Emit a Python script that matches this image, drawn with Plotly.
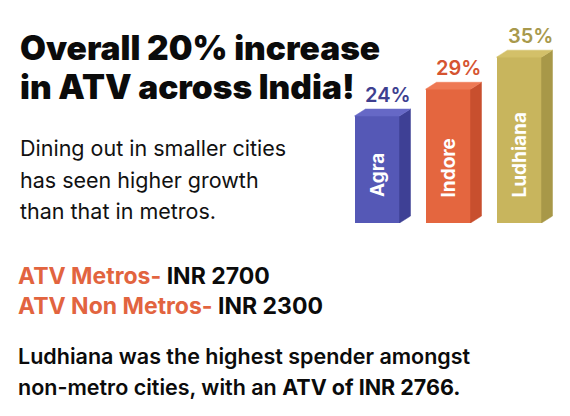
import plotly.graph_objects as go

cities = ["Agra", "Indore", "Ludhiana"]
growth = [24, 29, 35]
labels = ["24%", "29%", "35%"]
front_colors = ["#5558b6", "#e4663f", "#c8b55d"]
top_colors = ["#6668c6", "#ee7954", "#d3c069"]
side_colors = ["#3e4095", "#c84f2e", "#a89848"]
label_colors = ["#3e3f8f", "#d55431", "#a8994c"]

title_lines = ["Overall 20% increase", "in ATV across India!"]
sub_lines = ["Dining out in smaller cities", "has seen higher growth", "than that in metros."]
atv_items = [("ATV Metros-", "INR 2700"), ("ATV Non Metros-", "INR 2300")]
note_lines = ["Ludhiana was the highest spender amongst",
              "non-metro cities, with an <b>ATV of INR 2766.</b>"]

OFF = 8  # page body margin
W, H = 570 - OFF, 416 - OFF
FONT = "Inter"

px_per_cat = 71.0
px_per_pct = 5.35
bar_w = 45 / px_per_cat
dx = 11 / px_per_cat
dy = 7 / px_per_pct
y_lo = 4.0
y_hi = y_lo + 193 / px_per_pct

def px(xp):
    return (xp - OFF) / W

def py(yp):
    return 1 - (yp - OFF) / H

fig = go.Figure()
xs = list(range(len(cities)))

fig.add_trace(go.Bar(x=xs, y=growth, width=bar_w, marker=dict(color=front_colors, line=dict(width=0)),
                     hoverinfo="skip", showlegend=False))

for i, v in enumerate(growth):
    l, r = i - bar_w / 2, i + bar_w / 2
    fig.add_trace(go.Scatter(x=[r, r + dx, r + dx, r, r], y=[y_lo, y_lo + dy, v + dy, v, y_lo],
                             fill="toself", fillcolor=side_colors[i], mode="lines",
                             line=dict(color=side_colors[i], width=0.5), hoverinfo="skip", showlegend=False))
    fig.add_trace(go.Scatter(x=[l, l + dx, r + dx, r, l], y=[v, v + dy, v + dy, v, v],
                             fill="toself", fillcolor=top_colors[i], mode="lines",
                             line=dict(color=top_colors[i], width=0.5), hoverinfo="skip", showlegend=False))
    fig.add_annotation(x=i + dx, y=v + dy, xref="x", yref="y", text=labels[i], showarrow=False,
                       yanchor="bottom", xanchor="center", yshift=0,
                       font=dict(family=FONT, size=20, weight=600, color=label_colors[i]))
    fig.add_annotation(x=i, y=y_lo, xref="x", yref="y", text=cities[i], showarrow=False,
                       textangle=-90, yanchor="bottom", xanchor="center", yshift=24,
                       font=dict(family=FONT, size=19, weight=700, color="white"))

for k, t in enumerate(title_lines):
    fig.add_annotation(x=px(18), y=py(48.5 + 39 * k), xref="paper", yref="paper", text=t, showarrow=False,
                       xanchor="left", yanchor="middle",
                       font=dict(family=FONT, size=33.5, weight=900, color="#0b0b0b"))

for k, t in enumerate(sub_lines):
    fig.add_annotation(x=px(18), y=py(148 + 31.5 * k), xref="paper", yref="paper", text=t, showarrow=False,
                       xanchor="left", yanchor="middle",
                       font=dict(family=FONT, size=21.5, weight=400, color="#111111"))

for k, (a, b) in enumerate(atv_items):
    fig.add_annotation(x=px(16), y=py(276 + 30 * k), xref="paper", yref="paper",
                       text=f'<span style="color:#e2643f">{a}</span> {b}', showarrow=False,
                       xanchor="left", yanchor="middle",
                       font=dict(family=FONT, size=23, weight=700, color="#0b0b0b"))

for k, t in enumerate(note_lines):
    fig.add_annotation(x=px(16), y=py(356 + 31 * k), xref="paper", yref="paper", text=t, showarrow=False,
                       xanchor="left", yanchor="middle",
                       font=dict(family=FONT, size=21.5, weight=600, color="#0b0b0b"))

fig.update_layout(
    width=W, height=H, margin=dict(l=0, r=0, t=0, b=0),
    paper_bgcolor="white", plot_bgcolor="white",
    xaxis=dict(range=[-0.5, 2.5], domain=[px(341.5), px(554.5)], visible=False, fixedrange=True),
    yaxis=dict(range=[y_lo, y_hi], domain=[py(223), py(30)], visible=False, fixedrange=True),
    bargap=0,
)

fig.write_html("out.html")
